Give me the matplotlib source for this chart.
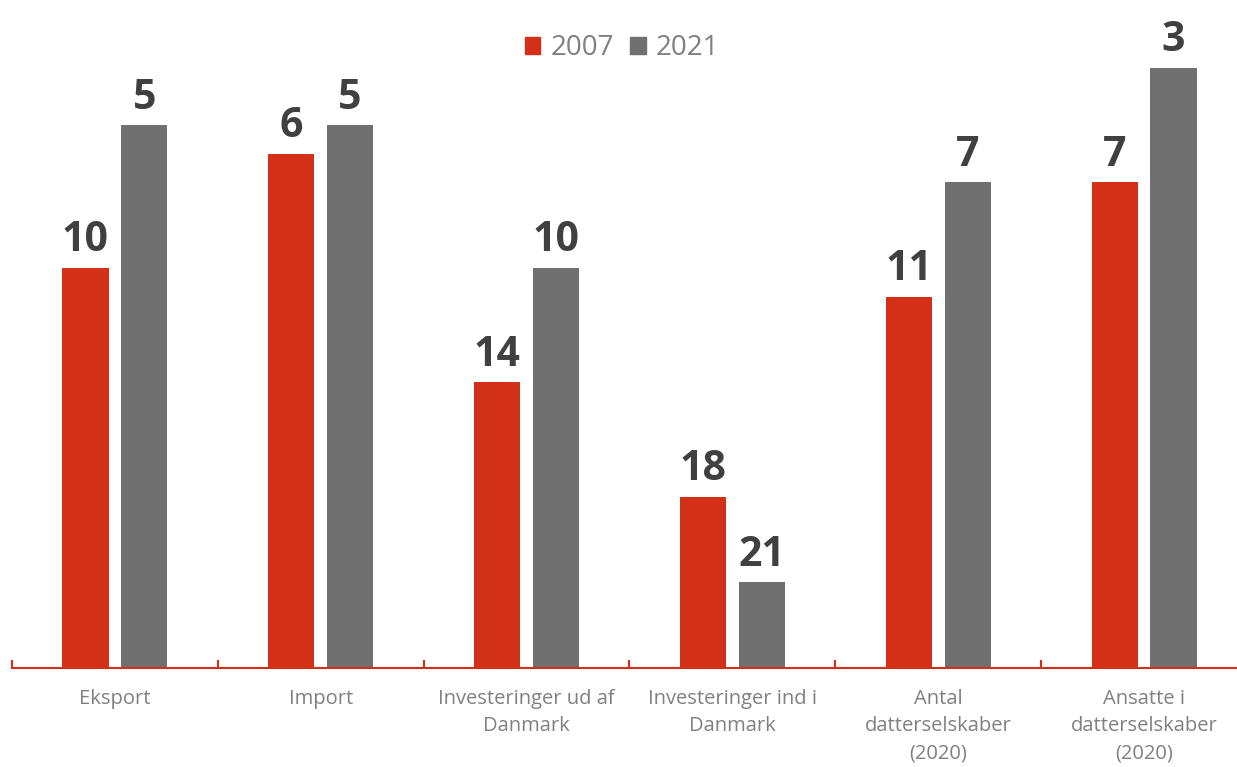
import matplotlib
matplotlib.use("Agg")
import matplotlib.pyplot as plt
from matplotlib.patches import Patch
import numpy as np

plt.rcParams['font.family'] = ['Open Sans', 'DejaVu Sans']

categories = ["Eksport", "Import", "Investeringer ud af\nDanmark",
              "Investeringer ind i\nDanmark", "Antal\ndatterselskaber\n(2020)",
              "Ansatte i\ndatterselskaber\n(2020)"]
rank_2007 = [10, 6, 14, 18, 11, 7]
rank_2021 = [5, 5, 10, 21, 7, 3]
series_labels = ["2007", "2021"]

RED = "#D33018"
GREY = "#707070"
LABEL = "#404040"
TICKTXT = "#808080"

# Bars grow taller for a better (lower) rank
BASE = 24
h07 = [BASE - r for r in rank_2007]
h21 = [BASE - r for r in rank_2021]

W, H = 1237, 767
fig = plt.figure(figsize=(W / 100, H / 100), dpi=100)
ax = fig.add_axes([12 / W, 99 / H, 1235 / W, 668 / H])

x = np.arange(len(categories))
bw = 0.224
off = 0.143
b1 = ax.bar(x - off, h07, bw, color=RED, zorder=2)
b2 = ax.bar(x + off, h21, bw, color=GREY, zorder=2)

for bars, ranks in ((b1, rank_2007), (b2, rank_2021)):
    for rect, r in zip(bars, ranks):
        ax.annotate(str(r), (rect.get_x() + rect.get_width() / 2, rect.get_height()),
                    xytext=(0, 12), textcoords="offset points",
                    ha="center", va="baseline", fontsize=29.5, fontweight="bold",
                    color=LABEL)

ax.set_xlim(-0.5, len(categories) - 0.5)
ax.set_ylim(0, 668 / 28.57)

for s in ("top", "right", "left"):
    ax.spines[s].set_visible(False)
ax.spines["bottom"].set_color(RED)
ax.spines["bottom"].set_linewidth(1.5)
ax.set_yticks([])

ax.set_xticks(np.arange(len(categories) + 1) - 0.5, minor=True)
ax.tick_params(axis="x", which="minor", direction="in", length=6, width=1.5, color=RED)
ax.set_xticks(x)
ax.set_xticklabels(categories, fontsize=14.5, color=TICKTXT, linespacing=1.5)
ax.tick_params(axis="x", which="major", length=0, pad=15)

handles = [Patch(color=RED), Patch(color=GREY)]
fig.legend(handles, series_labels, loc="center", bbox_to_anchor=(622 / W, 1 - 48 / H),
           ncol=2, frameon=False, fontsize=20, labelcolor=TICKTXT,
           handlelength=0.55, handleheight=0.55, handletextpad=0.35, columnspacing=0.6)

fig.savefig("out.png", dpi=100)
